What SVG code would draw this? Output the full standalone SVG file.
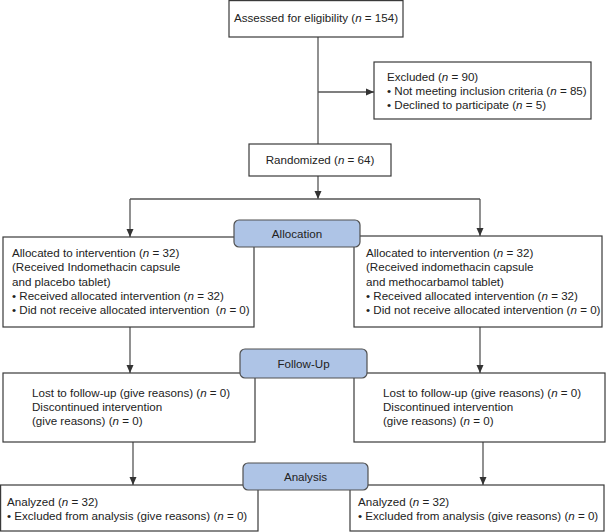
<svg xmlns="http://www.w3.org/2000/svg" width="606" height="532" viewBox="0 0 606 532">
<defs>
<marker id="ah" viewBox="0 0 8 8" refX="8" refY="4" markerWidth="8" markerHeight="8" markerUnits="userSpaceOnUse" orient="auto">
<path d="M0,0.5 L8,4 L0,7.5 Z" fill="#333"/>
</marker>
<style>
.box{fill:#fff;stroke:#3a3a3a;stroke-width:1.2}
.pill{fill:#aec4e6;stroke:#505050;stroke-width:1.2}
.t{font-family:"Liberation Sans",Arial,sans-serif;font-size:11.6px;fill:#222}
.c{text-anchor:middle}
.con{fill:none;stroke:#555;stroke-width:1.3}
.arr{marker-end:url(#ah)}
.i{font-style:italic}
</style>
</defs>
<rect width="606" height="532" fill="#fff"/>
<g id="connectors">
<path class="con" d="M318,37 V144"/>
<path class="con arr" d="M318,92 H374"/>
<path class="con arr" d="M318,176 V199"/>
<path class="con" d="M130,199 H480"/>
<path class="con arr" d="M130,199 V237"/>
<path class="con arr" d="M480,199 V236"/>
<path class="con arr" d="M130,327 V373"/>
<path class="con arr" d="M480,327 V373"/>
<path class="con arr" d="M133,442 V485"/>
<path class="con arr" d="M483,442 V485"/>
</g>
<g id="assessed">
<rect class="box" x="229" y="0.6" width="174" height="36.4"/>
<text class="t c" x="316" y="22">Assessed for eligibility (<tspan class="i">n</tspan> = 154)</text>
</g>
<g id="excluded">
<rect class="box" x="374" y="62" width="217" height="57"/>
<text class="t" x="387" y="81">Excluded (<tspan class="i">n</tspan> = 90)</text>
<text class="t" x="387" y="95">• Not meeting inclusion criteria (<tspan class="i">n</tspan> = 85)</text>
<text class="t" x="387" y="109">• Declined to participate (<tspan class="i">n</tspan> = 5)</text>
</g>
<g id="randomized">
<rect class="box" x="249" y="144" width="142" height="32"/>
<text class="t c" x="320" y="164">Randomized (<tspan class="i">n</tspan> = 64)</text>
</g>
<g id="alloc-left">
<rect class="box" x="3" y="237" width="251" height="90"/>
<text class="t" x="12" y="257">Allocated to intervention (<tspan class="i">n</tspan> = 32)</text>
<text class="t" x="12" y="271">(Received Indomethacin capsule</text>
<text class="t" x="12" y="286">and placebo tablet)</text>
<text class="t" x="12" y="300">• Received allocated intervention (<tspan class="i">n</tspan> = 32)</text>
<text class="t" x="12" y="314">• Did not receive allocated intervention &#160;(<tspan class="i">n</tspan> = 0)</text>
</g>
<g id="alloc-right">
<rect class="box" x="354" y="236" width="248" height="91"/>
<text class="t" x="366" y="257">Allocated to intervention (<tspan class="i">n</tspan> = 32)</text>
<text class="t" x="366" y="271">(Received indomethacin capsule</text>
<text class="t" x="366" y="286">and methocarbamol tablet)</text>
<text class="t" x="366" y="300">• Received allocated intervention (<tspan class="i">n</tspan> = 32)</text>
<text class="t" x="366" y="314">• Did not receive allocated intervention (<tspan class="i">n</tspan> = 0)</text>
</g>
<g id="allocation">
<rect class="pill" x="234" y="220" width="126" height="27" rx="5"/>
<text class="t c" x="297" y="237.5">Allocation</text>
</g>
<g id="follow-left">
<rect class="box" x="3" y="373" width="252" height="69"/>
<text class="t" x="32" y="397">Lost to follow-up (give reasons) (<tspan class="i">n</tspan> = 0)</text>
<text class="t" x="32" y="411">Discontinued intervention</text>
<text class="t" x="32" y="425">(give reasons) (<tspan class="i">n</tspan> = 0)</text>
</g>
<g id="follow-right">
<rect class="box" x="354" y="373" width="251" height="69"/>
<text class="t" x="383" y="397">Lost to follow-up (give reasons) (<tspan class="i">n</tspan> = 0)</text>
<text class="t" x="383" y="411">Discontinued intervention</text>
<text class="t" x="383" y="425">(give reasons) (<tspan class="i">n</tspan> = 0)</text>
</g>
<g id="followup">
<rect class="pill" x="240" y="349" width="127" height="29" rx="5"/>
<text class="t c" x="303.5" y="367.5">Follow-Up</text>
</g>
<g id="analysis-left">
<rect class="box" x="0.6" y="485" width="257.4" height="46"/>
<text class="t" x="7" y="506">Analyzed (<tspan class="i">n</tspan> = 32)</text>
<text class="t" x="7" y="520">• Excluded from analysis (give reasons) (<tspan class="i">n</tspan> = 0)</text>
</g>
<g id="analysis-right">
<rect class="box" x="350" y="485" width="254" height="46"/>
<text class="t" x="358" y="506">Analyzed (<tspan class="i">n</tspan> = 32)</text>
<text class="t" x="358" y="520">• Excluded from analysis (give reasons) (<tspan class="i">n</tspan> = 0)</text>
</g>
<g id="analysis">
<rect class="pill" x="243" y="463" width="125" height="27" rx="5"/>
<text class="t c" x="305.5" y="480.5">Analysis</text>
</g>
</svg>
